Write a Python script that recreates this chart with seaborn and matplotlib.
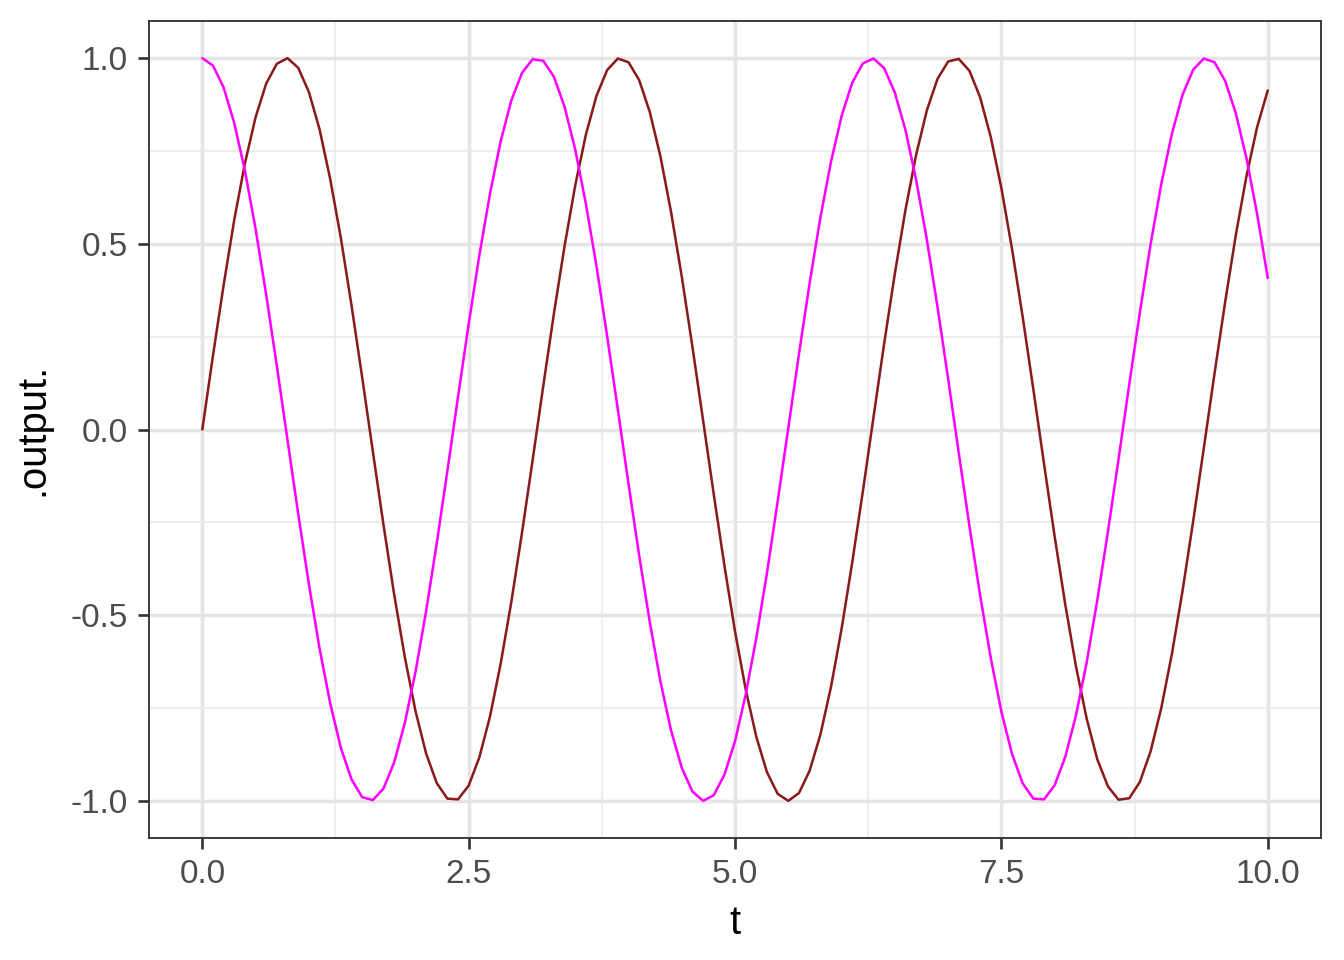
import pandas as pd
import matplotlib
matplotlib.use("Agg")
import matplotlib.pyplot as plt
import seaborn as sns
from matplotlib.ticker import MultipleLocator

# t from 0 to 10, step 0.1
t = [round(i * 0.1, 1) for i in range(101)]

# brown series (starts at 0, peaks near t=0.8)
out_brown = [
    0.000, 0.199, 0.389, 0.565, 0.717, 0.841, 0.932, 0.985, 1.000, 0.974,
    0.909, 0.809, 0.675, 0.516, 0.335, 0.141, -0.058, -0.256, -0.443, -0.612,
    -0.757, -0.872, -0.952, -0.994, -0.996, -0.959, -0.883, -0.773, -0.631, -0.465,
    -0.279, -0.083, 0.117, 0.312, 0.494, 0.657, 0.794, 0.899, 0.968, 0.999,
    0.989, 0.941, 0.855, 0.735, 0.585, 0.412, 0.223, 0.025, -0.174, -0.366,
    -0.544, -0.700, -0.828, -0.923, -0.981, -1.000, -0.979, -0.919, -0.823, -0.694,
    -0.537, -0.358, -0.166, 0.034, 0.232, 0.420, 0.592, 0.740, 0.859, 0.944,
    0.991, 0.998, 0.966, 0.895, 0.788, 0.650, 0.486, 0.303, 0.108, -0.092,
    -0.288, -0.472, -0.638, -0.778, -0.888, -0.961, -0.997, -0.993, -0.949, -0.867,
    -0.751, -0.605, -0.435, -0.247, -0.050, 0.150, 0.343, 0.523, 0.682, 0.814,
    0.913,
]

# magenta series (starts at 1)
out_magenta = [
    1.000, 0.980, 0.921, 0.825, 0.697, 0.540, 0.362, 0.170, -0.029, -0.227,
    -0.416, -0.589, -0.737, -0.857, -0.942, -0.990, -0.998, -0.967, -0.897, -0.791,
    -0.654, -0.490, -0.307, -0.112, 0.088, 0.284, 0.469, 0.635, 0.776, 0.886,
    0.960, 0.997, 0.993, 0.950, 0.869, 0.754, 0.608, 0.439, 0.251, 0.054,
    -0.146, -0.339, -0.519, -0.679, -0.811, -0.911, -0.975, -1.000, -0.985, -0.930,
    -0.839, -0.714, -0.561, -0.386, -0.194, 0.004, 0.203, 0.394, 0.569, 0.720,
    0.844, 0.934, 0.986, 0.999, 0.973, 0.907, 0.806, 0.672, 0.512, 0.331,
    0.137, -0.063, -0.260, -0.446, -0.615, -0.760, -0.874, -0.953, -0.994, -0.996,
    -0.958, -0.881, -0.770, -0.628, -0.460, -0.275, -0.079, 0.121, 0.316, 0.498,
    0.660, 0.796, 0.901, 0.969, 0.999, 0.989, 0.939, 0.852, 0.731, 0.581,
    0.408,
]

x_ticks = [0, 2.5, 5, 7.5, 10]
x_labels = ["0.0", "2.5", "5.0", "7.5", "10.0"]
y_ticks = [-1, -0.5, 0, 0.5, 1]
y_labels = ["-1.0", "-0.5", "0.0", "0.5", "1.0"]

df = pd.DataFrame({
    "t": t * 2,
    ".output.": out_brown + out_magenta,
    "series": ["brown"] * len(t) + ["magenta"] * len(t),
})

sns.set_theme(style="white")
plt.rcParams["font.family"] = ["Liberation Sans", "DejaVu Sans"]

fig = plt.figure(figsize=(7, 5), dpi=192)
ax = fig.add_axes([0.1109, 0.1271, 0.8720, 0.8510])

sns.lineplot(data=df, x="t", y=".output.", hue="series",
             palette={"brown": "#8B1A1A", "magenta": "#FF00FF"},
             linewidth=0.95, legend=False, ax=ax, zorder=3)

ax.set_xlim(-0.5, 10.5)
ax.set_ylim(-1.1, 1.1)
ax.set_xticks(x_ticks)
ax.set_xticklabels(x_labels)
ax.set_yticks(y_ticks)
ax.set_yticklabels(y_labels)
ax.xaxis.set_minor_locator(MultipleLocator(1.25))
ax.yaxis.set_minor_locator(MultipleLocator(0.25))

ax.grid(which="major", color="#E5E5E5", linewidth=1.3)
ax.grid(which="minor", color="#EBEBEB", linewidth=0.65)
ax.set_axisbelow(True)

for s in ax.spines.values():
    s.set_color("#333333")
    s.set_linewidth(0.7)

ax.tick_params(which="major", direction="out", length=4, width=1.0,
               color="#333333", labelsize=12.5, labelcolor="#4D4D4D", pad=4,
               bottom=True, left=True)
ax.tick_params(which="minor", length=0, bottom=False, left=False)

ax.set_xlabel("t", fontsize=15, color="black", labelpad=5)
ax.set_ylabel(".output.", fontsize=15, color="black", labelpad=7)

fig.savefig("out.png", dpi=192)
